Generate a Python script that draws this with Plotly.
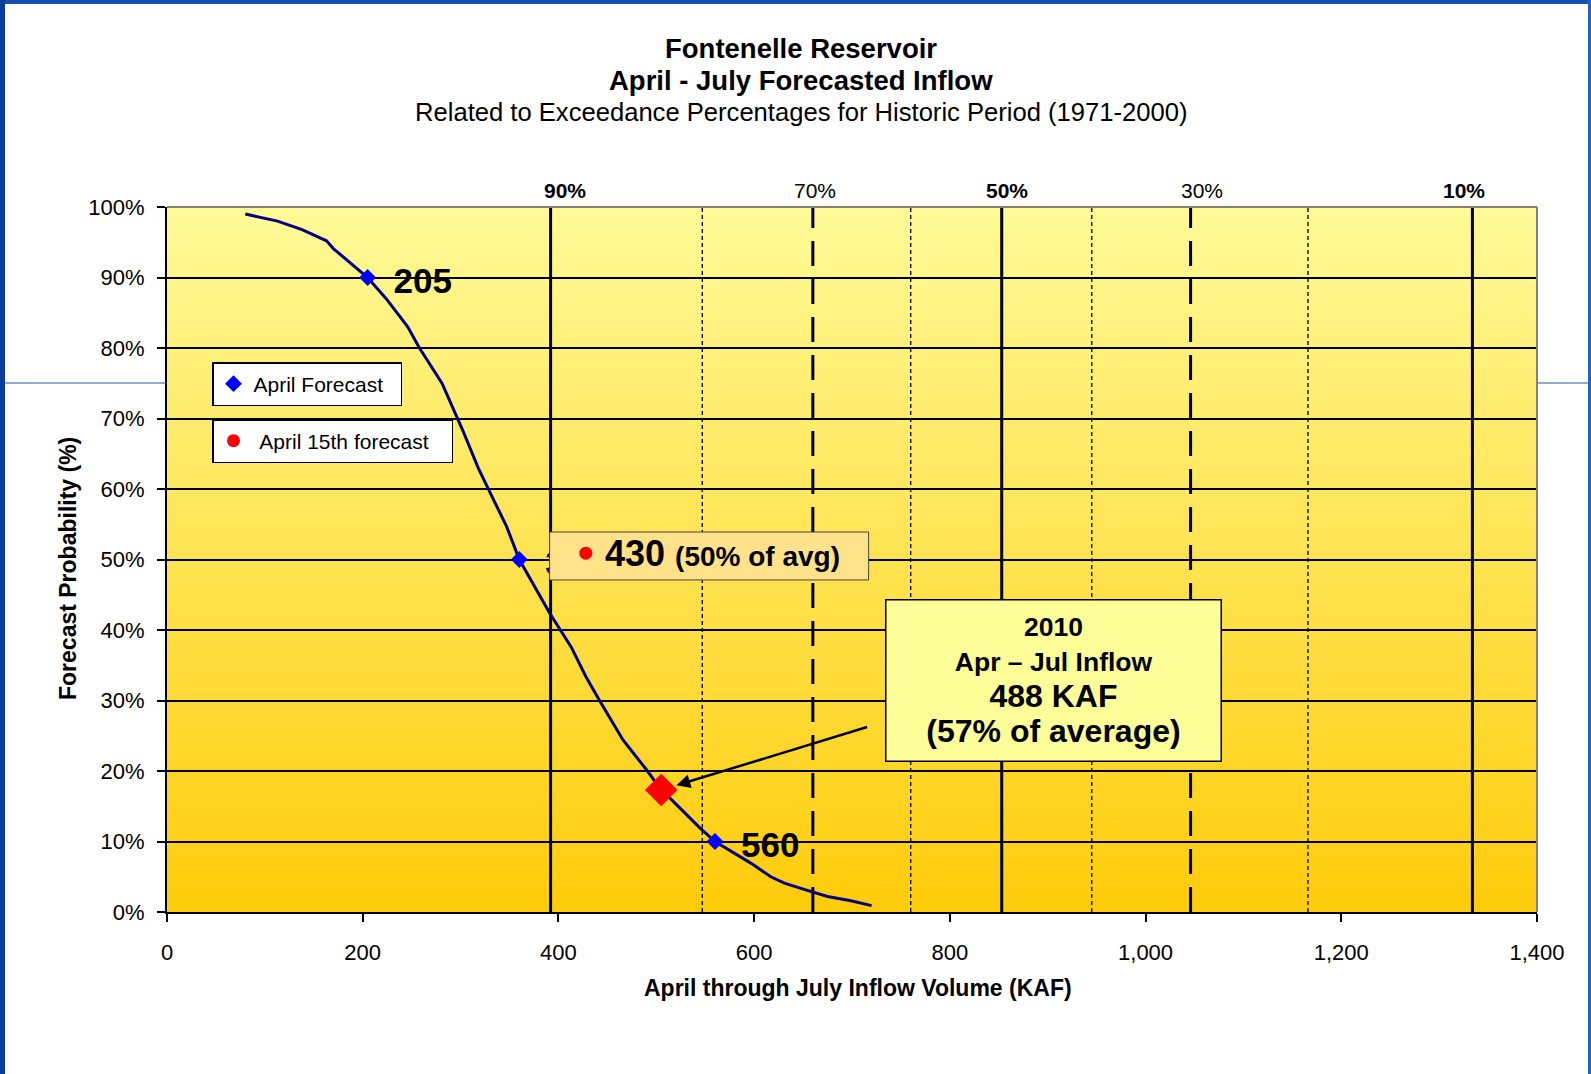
import plotly.graph_objects as go

# ---------------- data ----------------
curve_kaf = [80, 113, 138, 163, 170, 205, 224, 246, 258, 270, 281, 302, 318, 334, 347, 360,
             374, 391, 413, 428, 442, 452, 466, 491, 505, 515, 544, 560, 578, 597, 617, 631,
             651, 675, 699, 720]
curve_prob = [99, 98, 96.8, 95.2, 94.1, 90, 87, 83, 80, 77.3, 75, 68.4, 63, 58.4, 54.7, 50,
              46.6, 42.4, 37.6, 33.4, 30, 27.7, 24.4, 20, 17.3, 16, 12, 10, 8.5, 6.9, 5, 4.1,
              3.2, 2.2, 1.6, 0.9]

april_kaf = [205, 360, 560]
april_prob = [90, 50, 10]

apr15_kaf = [428]
apr15_prob = [50.9]
apr15_label = 430
apr15_pct_avg = 50

actual_kaf = [505]
actual_prob = [17.3]
actual_year = 2010
actual_volume = 488
actual_pct_avg = 57

exceed_pct = [90, 80, 70, 60, 50, 40, 30, 20, 10]
exceed_kaf = [392, 547, 660, 760, 853, 945, 1046, 1166, 1334]

x_ticks = [0, 200, 400, 600, 800, 1000, 1200, 1400]
y_ticks = [0, 10, 20, 30, 40, 50, 60, 70, 80, 90, 100]
y_tick_text = [f'{v}%' for v in y_ticks]

# ---------------- layout constants ----------------
FONT = "Arial, 'Liberation Sans', sans-serif"
W, H = 1591, 1074
L, R, T, B = 167, 54, 207, 162
PW, PH = W - L - R, H - T - B
XMAX = 1400
KAF_PER_PX = XMAX / PW
NBSP = '\u00a0'


def pxx(px):
    return (px - L) / PW


def pxy(py):
    return (H - B - py) / PH


fig = go.Figure()

fig.add_trace(go.Scatter(x=curve_kaf, y=curve_prob, mode='lines',
                         line=dict(color='#000080', width=3), showlegend=False,
                         hoverinfo='skip'))
fig.add_trace(go.Scatter(x=april_kaf, y=april_prob, mode='markers',
                         name='April Forecast' + NBSP * 2,
                         marker=dict(symbol='diamond', size=13, color='#0000FF'),
                         legend='legend'))
fig.add_trace(go.Scatter(x=apr15_kaf, y=apr15_prob, mode='markers',
                         name=NBSP + 'April 15th forecast' + NBSP * 3,
                         marker=dict(symbol='circle', size=13, color='#FF0000'),
                         legend='legend2'))
fig.add_trace(go.Scatter(x=actual_kaf, y=actual_prob, mode='markers', showlegend=False,
                         marker=dict(symbol='diamond', size=25, color='#FF0000')))

shapes = []
# gradient background (styling)
N = 141
top_c = (255, 250, 152)
bot_c = (255, 204, 10)
for i in range(N):
    t = (i + 0.5) / N
    c = tuple(round(bot_c[k] + (top_c[k] - bot_c[k]) * t) for k in range(3))
    shapes.append(dict(type='rect', xref='paper', yref='paper', x0=0, x1=1,
                       y0=i / N, y1=(i + 1) / N + 0.002, line=dict(width=0),
                       fillcolor='rgb(%d,%d,%d)' % c, layer='below'))

# exceedance lines
top_label_shift = {90: 14, 70: 2, 50: 5, 30: 11, 10: -8}
annotations = []
for p, k in zip(exceed_pct, exceed_kaf):
    if p in (90, 50, 10):
        ln = dict(color='black', width=3)
    elif p in (70, 30):
        ln = dict(color='black', width=3, dash='25px,13px')
    else:
        ln = dict(color='black', width=1.3, dash='4px,3px')
    shapes.append(dict(type='line', xref='x', yref='paper', x0=k, x1=k, y0=0, y1=1,
                       line=ln, layer='below'))
    if p in top_label_shift:
        txt = f'<b>{p}%</b>' if p in (90, 50, 10) else f'{p}%'
        annotations.append(dict(x=k, y=1, xref='x', yref='paper', text=txt, showarrow=False,
                                xanchor='center', yanchor='middle', yshift=17,
                                xshift=top_label_shift[p],
                                font=dict(size=21, family=FONT, color='black')))

# point labels (drawn beneath the callout box)
dx = 23 * KAF_PER_PX
for k, p in zip(april_kaf, april_prob):
    shapes.append(dict(type='rect', xref='x', yref='y', x0=k + dx, x1=k + dx + 80,
                       y0=p - 0.01, y1=p + 0.01,
                       line=dict(width=0), fillcolor='rgba(0,0,0,0)', layer='between',
                       label=dict(text=f'<b>{k}</b>', textposition='middle left',
                                  xanchor='left', yanchor='middle', padding=0,
                                  font=dict(size=35, family=FONT, color='black'))))

# April 15th callout box
shapes.append(dict(type='rect', xref='x', yref='y', x0=391, x1=717, y0=47.1, y1=53.9,
                   line=dict(color='#444444', width=1), fillcolor='#FFE28A', layer='between'))

# plot border (top / right gray)
shapes.append(dict(type='line', xref='paper', yref='paper', x0=0, x1=1, y0=1, y1=1,
                   line=dict(color='#808080', width=2), layer='above'))
shapes.append(dict(type='line', xref='paper', yref='paper', x0=1, x1=1, y0=0, y1=1,
                   line=dict(color='#808080', width=2), layer='above'))

# slide frame
frame = '#0C3D9C'
shapes.append(dict(type='rect', xref='paper', yref='paper', x0=pxx(0), x1=pxx(W),
                   y0=pxy(4), y1=pxy(0), line=dict(width=0), fillcolor='#1550B0', layer='above'))
shapes.append(dict(type='rect', xref='paper', yref='paper', x0=pxx(0), x1=pxx(5),
                   y0=pxy(H), y1=pxy(0), line=dict(width=0), fillcolor=frame, layer='above'))
shapes.append(dict(type='rect', xref='paper', yref='paper', x0=pxx(1588), x1=pxx(W),
                   y0=pxy(H), y1=pxy(0), line=dict(width=0), fillcolor='#1E63C6', layer='above'))
shapes.append(dict(type='line', xref='paper', yref='paper', x0=pxx(5), x1=pxx(L),
                   y0=pxy(383), y1=pxy(383), line=dict(color='#2456A8', width=1), layer='above'))
shapes.append(dict(type='line', xref='paper', yref='paper', x0=pxx(1538), x1=pxx(1588),
                   y0=pxy(383), y1=pxy(383), line=dict(color='#2456A8', width=1), layer='above'))

# callout texts
annotations.append(dict(x=568, y=50.9, xref='x', yref='y', showarrow=False,
                        xanchor='center', yanchor='middle',
                        text=f'<b><span style="font-size:36px">{apr15_label}</span> '
                             f'<span style="font-size:28px">({apr15_pct_avg}% of avg)</span></b>',
                        font=dict(size=36, family=FONT, color='black')))

annotations.append(dict(x=905.4, y=32.9, xref='x', yref='y', showarrow=False,
                        xanchor='center', yanchor='middle', width=330, height=156,
                        bgcolor='#FFFF99', bordercolor='black', borderwidth=1.5, borderpad=2,
                        text=f'<b><span style="font-size:26.5px">{actual_year}</span><br>'
                             f'<span style="font-size:26.5px">Apr \u2013 Jul Inflow</span><br>'
                             f'<span style="font-size:32px">{actual_volume} KAF</span><br>'
                             f'<span style="font-size:32px">({actual_pct_avg}% of average)</span></b>',
                        font=dict(size=27, family=FONT, color='black')))

annotations.append(dict(x=actual_kaf[0], y=actual_prob[0], xref='x', yref='y',
                        ax=717, ay=26.3, axref='x', ayref='y', text='', showarrow=True,
                        arrowhead=2, arrowsize=1.1, arrowwidth=2.5, arrowcolor='black',
                        standoff=16))

# titles
annotations += [
    dict(x=pxx(801), y=pxy(48), xref='paper', yref='paper', showarrow=False,
         xanchor='center', yanchor='middle',
         text='<b>Fontenelle Reservoir</b>', font=dict(size=27.5, family=FONT, color='black')),
    dict(x=pxx(801), y=pxy(81), xref='paper', yref='paper', showarrow=False,
         xanchor='center', yanchor='middle',
         text='<b>April - July Forecasted Inflow</b>', font=dict(size=27.5, family=FONT, color='black')),
    dict(x=pxx(801), y=pxy(112), xref='paper', yref='paper', showarrow=False,
         xanchor='center', yanchor='middle',
         text='Related to Exceedance Percentages for Historic Period (1971-2000)',
         font=dict(size=25.6, family=FONT, color='black')),
    dict(x=pxx(858), y=pxy(988), xref='paper', yref='paper', showarrow=False,
         xanchor='center', yanchor='middle',
         text='<b>April through July Inflow Volume (KAF)</b>',
         font=dict(size=23, family=FONT, color='black')),
    dict(x=pxx(68), y=pxy(569), xref='paper', yref='paper', showarrow=False, textangle=-90,
         xanchor='center', yanchor='middle',
         text='<b>Forecast Probability (%)</b>',
         font=dict(size=23, family=FONT, color='black')),
]

fig.update_layout(
    width=W, height=H, margin=dict(l=L, r=R, t=T, b=B, pad=0),
    paper_bgcolor='white', plot_bgcolor='#FFE34F',
    font=dict(family=FONT, color='black'),
    shapes=shapes, annotations=annotations,
    legend=dict(x=pxx(212), y=pxy(362), xanchor='left', yanchor='top', bgcolor='white',
                bordercolor='black', borderwidth=1.5, font=dict(size=21, family=FONT, color='black')),
    legend2=dict(x=pxx(212), y=pxy(419), xanchor='left', yanchor='top', bgcolor='white',
                 bordercolor='black', borderwidth=1.5, font=dict(size=21, family=FONT, color='black')),
    xaxis=dict(range=[0, XMAX], tickvals=x_ticks, tickformat=',', showgrid=False,
               zeroline=False, showline=True, linecolor='black', linewidth=2,
               ticks='outside', ticklen=8, tickwidth=1.5, tickcolor='black',
               tickfont=dict(size=22, family=FONT, color='black'), ticklabelstandoff=12),
    yaxis=dict(range=[0, 100], tickvals=y_ticks, ticktext=y_tick_text, showgrid=True,
               gridcolor='black', gridwidth=1.6, zeroline=False, showline=True,
               linecolor='black', linewidth=2, ticks='outside', ticklen=8, tickwidth=1.5,
               tickcolor='black', tickfont=dict(size=22, family=FONT, color='black'),
               ticklabelstandoff=8),
)

fig.write_html("out.html", config={'displayModeBar': False},
               post_script="document.body.style.margin='0';document.body.style.overflow='hidden';")
